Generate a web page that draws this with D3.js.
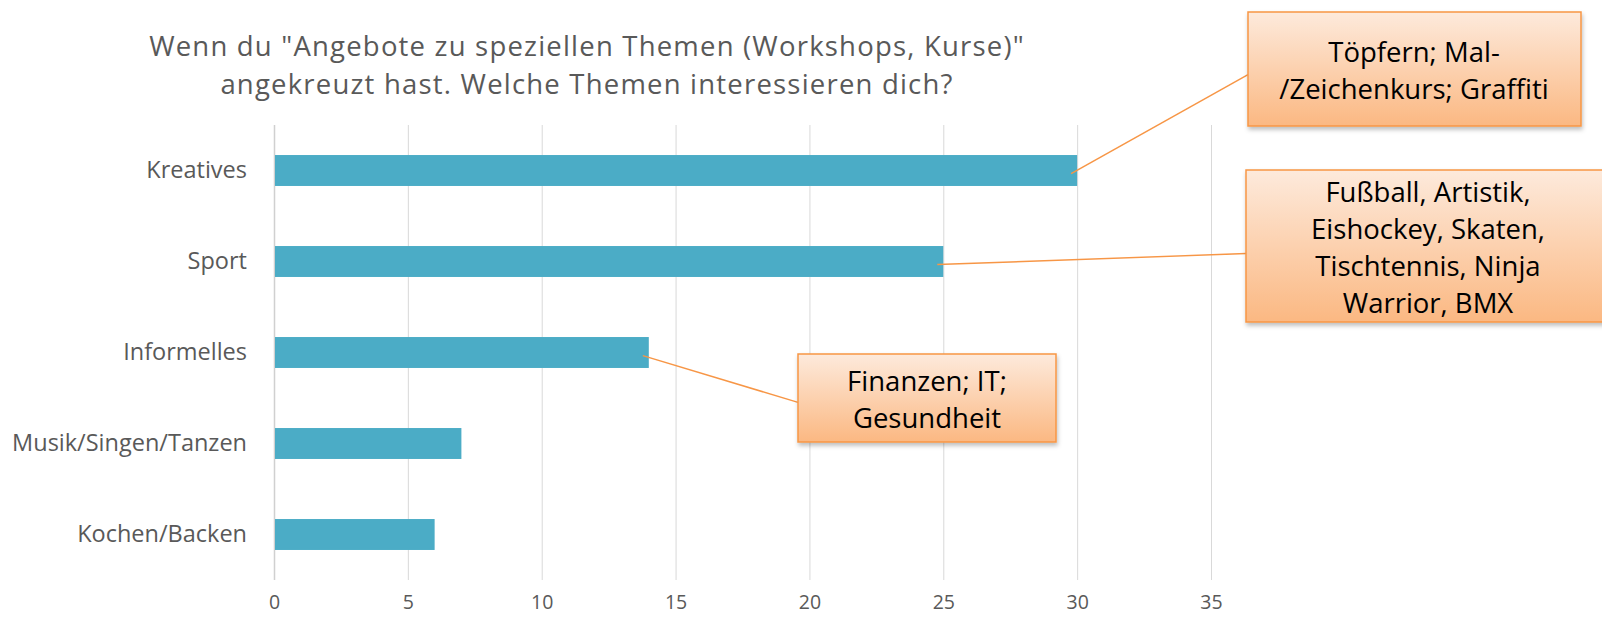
<!DOCTYPE html>
<html>
<head>
<meta charset="utf-8">
<script src="https://cdn.jsdelivr.net/npm/d3@7"></script>
<style>
  body { margin: 0; background: #fff; overflow: hidden; }
  svg text { font-family: "Open Sans", sans-serif; }
</style>
</head>
<body>
<div id="chart"></div>
<script>
// chart data
const categories = ["Kreatives", "Sport", "Informelles", "Musik/Singen/Tanzen", "Kochen/Backen"];
const values = [30, 25, 14, 7, 6];
const ticks = [0, 5, 10, 15, 20, 25, 30, 35];
const titleLines = [
  'Wenn du "Angebote zu speziellen Themen (Workshops, Kurse)"',
  "angekreuzt hast. Welche Themen interessieren dich?"
];
// callouts: which bar they point at, and their text lines
const callouts = [
  { category: "Kreatives", lines: ["Töpfern; Mal-", "/Zeichenkurs; Graffiti"], box: [1248, 12, 1581, 126], cx: 1414 },
  { category: "Sport", lines: ["Fußball, Artistik,", "Eishockey, Skaten,", "Tischtennis, Ninja", "Warrior, BMX"], box: [1246, 170, 1640, 322], cx: 1428 },
  { category: "Informelles", lines: ["Finanzen; IT;", "Gesundheit"], box: [798, 354, 1056, 442], cx: 927 }
];

const width = 1602;
const height = 617;
const plot = { left: 274, right: 1211, top: 125, bottom: 580 };

const svg = d3.select("#chart").append("svg")
  .attr("width", width)
  .attr("height", height);

const defs = svg.append("defs");
const grad = defs.append("linearGradient")
  .attr("id", "calloutFill")
  .attr("x1", 0).attr("y1", 0).attr("x2", 0).attr("y2", 1);
grad.append("stop").attr("offset", "0%").attr("stop-color", "#fdeadc");
grad.append("stop").attr("offset", "100%").attr("stop-color", "#fbb882");

const shadow = defs.append("filter").attr("id", "shadow")
  .attr("x", "-10%").attr("y", "-10%").attr("width", "130%").attr("height", "140%");
shadow.append("feDropShadow")
  .attr("dx", 1).attr("dy", 3).attr("stdDeviation", 2)
  .attr("flood-color", "#000").attr("flood-opacity", 0.25);

const x = d3.scaleLinear().domain([0, 35]).range([plot.left, plot.right]);
const y = d3.scaleBand().domain(categories).range([plot.top, plot.bottom]).paddingInner(0.66).paddingOuter(0.33);

// title
svg.append("g").selectAll("text")
  .data(titleLines)
  .enter()
  .append("text")
  .attr("x", 587)
  .attr("y", (d, i) => 56 + i * 38)
  .attr("text-anchor", "middle")
  .style("font-size", "27.5px")
  .style("letter-spacing", "1.2px")
  .style("fill", "#595959")
  .text((d) => d);

// gridlines
svg.append("g").selectAll("line")
  .data(ticks)
  .enter()
  .append("line")
  .attr("x1", (d) => x(d) + 0.5)
  .attr("x2", (d) => x(d) + 0.5)
  .attr("y1", plot.top)
  .attr("y2", plot.bottom)
  .style("stroke", (d) => d === 0 ? "#d0d0d0" : "#d9d9d9")
  .style("stroke-width", (d) => d === 0 ? 1.5 : 1);

// x axis labels
const xAxis = d3.axisBottom(x).tickValues(ticks).tickSize(0).tickPadding(15);
const gx = svg.append("g")
  .attr("transform", `translate(0, ${plot.bottom})`)
  .call(xAxis);
gx.select(".domain").remove();
gx.selectAll("text")
  .style("font-size", "19.5px")
  .style("fill", "#595959")
  .style("font-family", "'Open Sans', sans-serif");

// y axis labels
const yAxis = d3.axisLeft(y).tickSize(0).tickPadding(27);
const gy = svg.append("g")
  .attr("transform", `translate(${plot.left}, 0)`)
  .call(yAxis);
gy.select(".domain").remove();
gy.selectAll("text")
  .style("font-size", "23.5px")
  .style("fill", "#595959")
  .style("font-family", "'Open Sans', sans-serif");

// bars
svg.append("g").selectAll("rect")
  .data(categories)
  .enter()
  .append("rect")
  .attr("x", x(0) + 1)
  .attr("y", (d) => y(d))
  .attr("width", (d, i) => x(values[i]) - x(0) - 1)
  .attr("height", y.bandwidth())
  .style("fill", "#4bacc6");

// callouts
const cg = svg.append("g");
callouts.forEach((c) => {
  const [x0, y0, x1, y1] = c.box;
  const v = values[categories.indexOf(c.category)];
  const tipX = x(v) - 6;
  const tipY = y(c.category) + y.bandwidth() * 0.6;
  const anchorY = y0 + (y1 - y0) * 0.55;

  cg.append("line")
    .attr("x1", tipX).attr("y1", tipY)
    .attr("x2", x0).attr("y2", anchorY)
    .style("stroke", "#f79646")
    .style("stroke-width", 1.5);

  cg.append("rect")
    .attr("x", x0).attr("y", y0)
    .attr("width", x1 - x0).attr("height", y1 - y0)
    .style("fill", "url(#calloutFill)")
    .style("stroke", "#f79646")
    .style("stroke-width", 1.5)
    .attr("filter", "url(#shadow)");

  const lh = 37;
  const firstY = (y0 + y1) / 2 - (c.lines.length - 1) * lh / 2 + 11;
  cg.selectAll(null)
    .data(c.lines)
    .enter()
    .append("text")
    .attr("x", c.cx)
    .attr("y", (d, i) => firstY + i * lh)
    .attr("text-anchor", "middle")
    .style("font-size", "27.5px")
    .style("fill", "#000")
    .text((d) => d);
});
</script>
</body>
</html>
